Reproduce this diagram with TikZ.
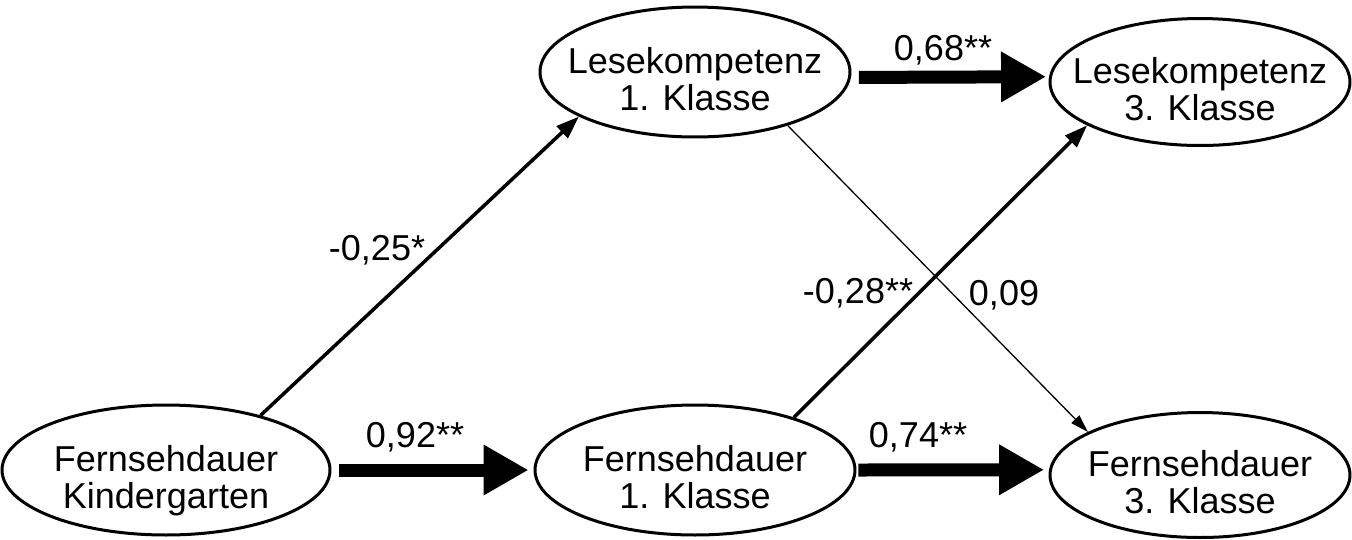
\documentclass[tikz,border=0pt]{standalone}
\usepackage{fontspec}
\setmainfont{Liberation Sans}
\usetikzlibrary{arrows.meta,shapes.geometric}
\newcommand{\twolines}[2]{\makebox[0pt]{\raisebox{-0.25cm}[\height][\depth]{\begin{tabular}{@{}c@{}}#1\\#2\end{tabular}}}}
\tikzset{
	latent/.style={draw, ellipse, line width=0.06cm, inner sep=0pt, font=\fontsize{20.5}{21}\selectfont},
	heavy/.style={line width=0.26cm, -{Triangle[length=0.9cm,width=0.95cm]}},
	medium/.style={line width=0.07cm, -{Triangle[length=0.46cm,width=0.32cm]}},
	light/.style={line width=0.026cm, -{Triangle[length=0.36cm,width=0.22cm]}},
	coef/.style={font=\fontsize{20.5}{21}\selectfont, inner sep=0pt}
}

\begin{document}
\begin{tikzpicture}[x=0.02cm, y=-0.02cm]
			%%%%% START %%%%%
			
			\useasboundingbox (0, 0) rectangle (1352, 539);
			
			\node[latent, minimum width=6.56cm, minimum height=2.6cm] (fk) at (166, 470) {\twolines{Fernsehdauer}{Kindergarten}};
			\node[latent, minimum width=6.2cm, minimum height=2.6cm] (l1) at (695, 72) {\twolines{Lesekompetenz}{1. Klasse}};
			\node[latent, minimum width=6.0cm, minimum height=2.54cm] (l3) at (1200, 82) {\twolines{Lesekompetenz}{3. Klasse}};
			\node[latent, minimum width=6.4cm, minimum height=2.6cm] (f1) at (695, 470) {\twolines{Fernsehdauer}{1. Klasse}};
			\node[latent, minimum width=6.0cm, minimum height=2.5cm] (f3) at (1200, 475) {\twolines{Fernsehdauer}{3. Klasse}};
			
			\draw[heavy, shorten <=0.16cm, shorten >=0.1cm] (fk.east) -- (f1.west);
			\draw[heavy, shorten <=0.16cm, shorten >=0.06cm] (l1.-2) -- (l3.178);
			\draw[heavy, shorten <=0.04cm, shorten >=0.1cm] (f1.east) -- (f3.178);
			
			\draw[medium] (fk.30) -- (l1.201);
			\draw[medium] (f1.28) -- (l3.201);
			\draw[light] (l1.-30) -- (f3.159);
			
			\node[coef] (c1) at (377, 250) {-0,25*};
			\node[coef] (c2) at (415, 437) {0,92**};
			\node[coef] (c3) at (943, 50) {0,68**};
			\node[coef] (c4) at (918, 437) {0,74**};
			\node[coef] (c5) at (858, 293) {-0,28**};
			\node[coef] (c6) at (1004, 295) {0,09};
			
			%%%%% END %%%%%
\end{tikzpicture}
\end{document}
